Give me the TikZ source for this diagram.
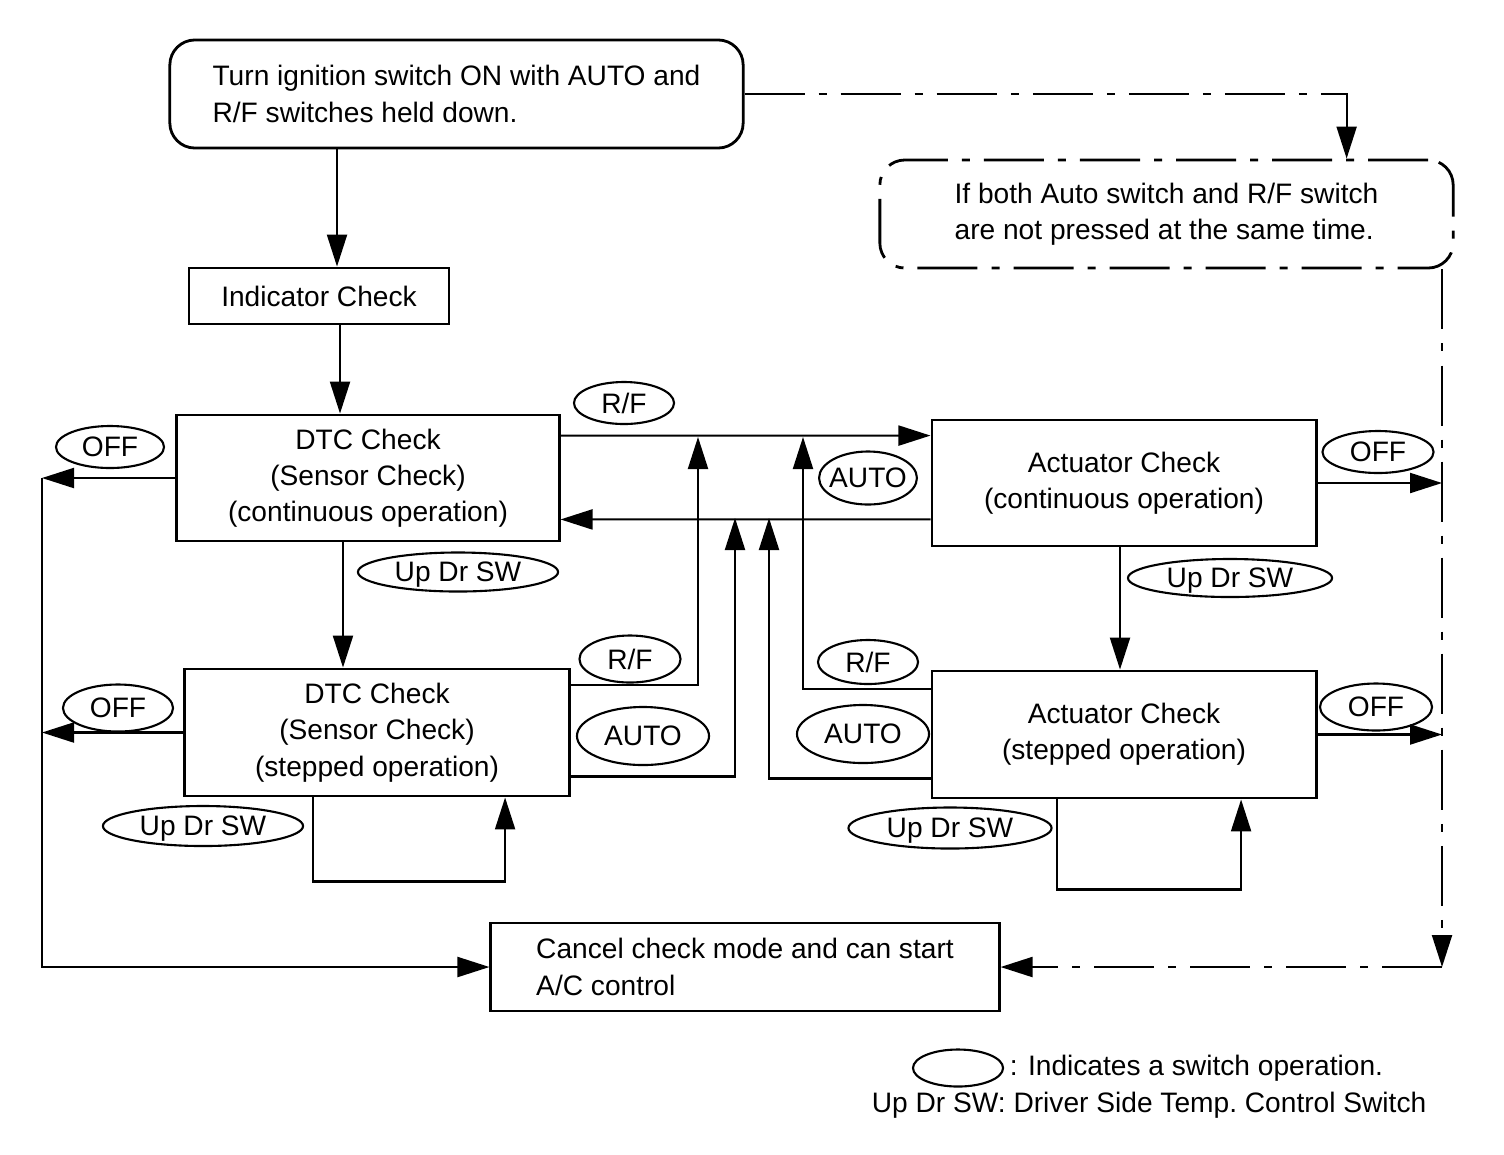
\documentclass[tikz,border=0pt]{standalone}
\usepackage{fontspec}
\setmainfont{Liberation Sans}
\usetikzlibrary{arrows.meta, shapes.geometric, positioning}

\tikzset{
  box/.style={draw, line width=0.8pt, align=center, inner sep=0pt},
  rbox/.style={box, rounded corners=0.25cm, align=left},
  sw/.style={draw, ellipse, line width=0.6pt, inner sep=0pt, text depth=0pt, minimum height=0.42cm},
  conn/.style={line width=0.6pt, -{Triangle[length=0.32cm,width=0.2cm]}},
  ddash/.style={dash pattern=on 0.6cm off 0.14cm on 0.08cm off 0.14cm}
}

\begin{document}
\begin{tikzpicture}[x=0.01cm, y=-0.01cm, every node/.style={font=\fontsize{8}{10.3}\selectfont}]
    \useasboundingbox (0,0) rectangle (1504,1154);

    % Boxes
    \node[rbox, minimum width=5.73cm, minimum height=1.08cm] (start) at (456.5,94)
        {Turn ignition switch ON with AUTO and\\R/F switches held down.};
    \node[rbox, ddash, minimum width=5.73cm, minimum height=1.08cm] (cond) at (1166.5,214)
        {If both Auto switch and R/F switch\\are not pressed at the same time.};
    \node[box, minimum width=2.6cm, minimum height=0.56cm] (ind) at (319,296) {Indicator Check};
    \node[box, minimum width=3.82cm, minimum height=1.26cm] (dtc1) at (368,478)
        {DTC Check\\(Sensor Check)\\(continuous operation)};
    \node[box, minimum width=3.84cm, minimum height=1.27cm] (dtc2) at (377,732.5)
        {DTC Check\\(Sensor Check)\\(stepped operation)};
    \node[box, minimum width=3.84cm, minimum height=1.26cm] (act1) at (1124,483)
        {Actuator Check\\(continuous operation)};
    \node[box, minimum width=3.84cm, minimum height=1.27cm] (act2) at (1124,734.5)
        {Actuator Check\\(stepped operation)};
    \node[box, align=left, minimum width=5.08cm, minimum height=0.88cm] (cancel) at (745,967)
        {Cancel check mode and can start\\A/C control};

    % Switch operations
    \node[sw, minimum width=1.08cm] (off1) at (110,447) {OFF};
    \node[sw, minimum width=1.0cm] (rf1) at (624,403) {R/F};
    \node[sw, minimum width=2.0cm, minimum height=0.39cm] (up1) at (458,572) {Up Dr SW};
    \node[sw, inner xsep=-1.2pt, minimum height=0.53cm] (auto1) at (868,478) {AUTO};
    \node[sw, minimum width=1.11cm] (off2) at (1378,452) {OFF};
    \node[sw, minimum width=2.04cm, minimum height=0.38cm] (up2) at (1230,578) {Up Dr SW};
    \node[sw, minimum width=1.01cm, minimum height=0.47cm] (rf2) at (630,659) {R/F};
    \node[sw, minimum width=1.1cm, minimum height=0.47cm] (off3) at (118,708) {OFF};
    \node[sw, minimum width=1.32cm, minimum height=0.58cm] (auto2) at (643,736) {AUTO};
    \node[sw, minimum width=1.0cm, minimum height=0.44cm] (rf3) at (868,662) {R/F};
    \node[sw, minimum width=1.32cm, minimum height=0.58cm] (auto3) at (863,734) {AUTO};
    \node[sw, minimum width=1.12cm, minimum height=0.47cm] (off4) at (1376,707) {OFF};
    \node[sw, minimum width=2.0cm, minimum height=0.4cm] (up3) at (203,826) {Up Dr SW};
    \node[sw, minimum width=2.03cm, minimum height=0.41cm] (up4) at (950,828) {Up Dr SW};

    % Legend
    \node[sw, minimum width=0.9cm, minimum height=0.37cm] (legsw) at (958,1068) {};
    \node[right=0.05cm of legsw, inner sep=0pt] (legtxt) {: Indicates a switch operation.};
    \node[anchor=east, inner sep=0pt] (legup) at (1427,1105) {Up Dr SW: Driver Side Temp.\ Control Switch};

    % Main flow
    \draw[conn] ([xshift=0.18cm]ind.north |- start.south) -- ([xshift=0.18cm]ind.north);
    \draw[conn] ([xshift=0.21cm]ind.south) -- ([xshift=0.21cm]ind.south |- dtc1.north);
    \draw[conn] ([xshift=-0.25cm]dtc1.south) -- ([xshift=-0.25cm]dtc1.south |- dtc2.north);
    \draw[conn] ([xshift=-0.04cm]act1.south) -- ([xshift=-0.04cm]act1.south |- act2.north);

    % Between DTC and actuator checks
    \coordinate (j1) at (698,437);
    \coordinate (j2) at (735,518);
    \coordinate (j3) at (769,518);
    \coordinate (j4) at (803,437);
    \draw[conn] ([yshift=-0.22cm]dtc1.north east) -- ([yshift=-0.17cm]act1.north west);
    \draw[conn] ([yshift=0.28cm]act1.south west) -- ([yshift=0.23cm]dtc1.south east);
    \draw[conn] ([yshift=-0.17cm]dtc2.north east) -| (j1);
    \draw[conn] ([yshift=0.21cm]dtc2.south east) -| (j2);
    \draw[conn] ([yshift=0.21cm]act2.south west) -| (j3);
    \draw[conn] ([yshift=-0.19cm]act2.north west) -| (j4);

    % Stepped loops
    \draw[conn] ([xshift=-0.64cm]dtc2.south) -- ++(0,84) -| ([xshift=1.28cm]dtc2.south);
    \draw[conn] ([xshift=-0.67cm]act2.south) -- ++(0,90) -| ([xshift=1.17cm]act2.south);

    % OFF to cancel
    \coordinate (lbus) at (42,967);
    \coordinate (rbus) at (1442,967);
    \draw[conn] (dtc1.west) -- (dtc1.west -| lbus);
    \draw[conn] (dtc2.west) -- (dtc2.west -| lbus);
    \draw[conn] (dtc1.west -| lbus) -- (lbus) -- (cancel.west);
    \draw[conn] (act1.east) -- (act1.east -| rbus);
    \draw[conn] (act2.east) -- (act2.east -| rbus);

    % Switches not pressed together
    \draw[conn, ddash] (start.east) -| ([xshift=1.8cm]cond.north);
    \draw[conn, ddash] (cond.south -| rbus) -- (rbus);
    \draw[conn, ddash] (rbus) -- (cancel.east);
\end{tikzpicture}
\end{document}
